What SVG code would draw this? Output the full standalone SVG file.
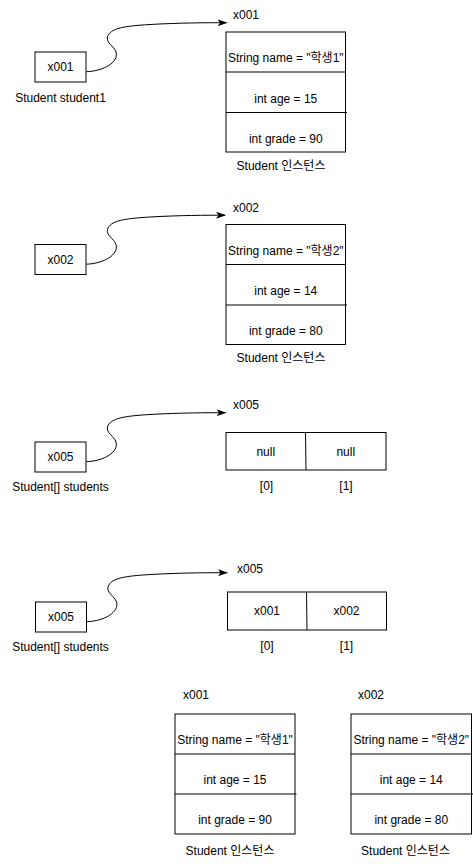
<svg xmlns="http://www.w3.org/2000/svg" width="473" height="864" viewBox="0 0 473 864">
<style>
text{font-family:"Liberation Sans","Noto Sans CJK KR",Arial,sans-serif;font-size:12px;fill:#000}
.c{text-anchor:middle}
.box{fill:#fff;stroke:#000;stroke-width:1}
.ln{stroke:#000;stroke-width:1;fill:none}
.edge{fill:none;stroke:#000;stroke-width:1;marker-end:url(#arr)}
</style>
<defs>
<marker id="arr" viewBox="0 0 10 7" refX="9" refY="3.5" markerWidth="10" markerHeight="7" markerUnits="userSpaceOnUse" orient="auto">
<path d="M0,0 L10,3.5 L0,7 L2.5,3.5 Z" fill="#000"/>
</marker>
</defs>
<rect width="473" height="864" fill="#fff"/>

<g id="var-student1">
<rect class="box" x="35" y="52" width="51" height="30"/>
<text class="c" x="60.5" y="71">x001</text>
<text class="c" x="60.5" y="101.5">Student student1</text>
</g>
<g id="instance-1">
<text x="233" y="19">x001</text>
<rect class="box" x="226" y="32" width="119.5" height="120"/>
<line class="ln" x1="226" y1="72" x2="345.5" y2="72"/>
<line class="ln" x1="226" y1="112.5" x2="347" y2="112.5"/>
<text class="c" x="285.75" y="62">String name = "학생1"</text>
<text class="c" x="285.75" y="102.5">int age = 15</text>
<text class="c" x="285.75" y="142.5">int grade = 90</text>
<text class="c" x="281" y="169.5">Student 인스턴스</text>
</g>

<g id="var-student2">
<rect class="box" x="35" y="244.5" width="51" height="30"/>
<text class="c" x="60.5" y="263.5">x002</text>
</g>
<g id="instance-2">
<text x="233" y="211.5">x002</text>
<rect class="box" x="226" y="224.5" width="119.5" height="120"/>
<line class="ln" x1="226" y1="264.5" x2="345.5" y2="264.5"/>
<line class="ln" x1="226" y1="305" x2="347" y2="305"/>
<text class="c" x="285.75" y="254.5">String name = "학생2"</text>
<text class="c" x="285.75" y="295">int age = 14</text>
<text class="c" x="285.75" y="335">int grade = 80</text>
<text class="c" x="281" y="362">Student 인스턴스</text>
</g>

<g id="var-students-1">
<rect class="box" x="35" y="442" width="51" height="30"/>
<text class="c" x="60.5" y="461">x005</text>
<text class="c" x="60.5" y="491">Student[] students</text>
</g>
<g id="array-null">
<text x="233" y="409">x005</text>
<rect class="box" x="226" y="432.5" width="160" height="37.5"/>
<line class="ln" x1="305.5" y1="432.5" x2="306" y2="470"/>
<text class="c" x="265.75" y="455.5">null</text>
<text class="c" x="345.75" y="455.5">null</text>
<text class="c" x="266.5" y="490">[0]</text>
<text class="c" x="346" y="490">[1]</text>
</g>

<g id="var-students-2">
<rect class="box" x="35.5" y="602" width="51" height="30"/>
<text class="c" x="61" y="621">x005</text>
<text class="c" x="60.5" y="651">Student[] students</text>
</g>
<g id="array-ref">
<text x="237" y="573">x005</text>
<rect class="box" x="227.5" y="592" width="159" height="38"/>
<line class="ln" x1="306.5" y1="592" x2="307" y2="630"/>
<text class="c" x="267" y="615">x001</text>
<text class="c" x="346.5" y="615">x002</text>
<text class="c" x="267" y="650">[0]</text>
<text class="c" x="346.5" y="650">[1]</text>
</g>

<g id="instance-3">
<text x="183" y="699">x001</text>
<rect class="box" x="175" y="714" width="120" height="120"/>
<line class="ln" x1="175" y1="754" x2="295" y2="754"/>
<line class="ln" x1="175" y1="794" x2="296.5" y2="794"/>
<text class="c" x="235" y="744">String name = "학생1"</text>
<text class="c" x="235" y="784">int age = 15</text>
<text class="c" x="235" y="824">int grade = 90</text>
<text class="c" x="230" y="855">Student 인스턴스</text>
</g>
<g id="instance-4">
<text x="358" y="699">x002</text>
<rect class="box" x="351" y="714" width="120.5" height="120"/>
<line class="ln" x1="351" y1="754" x2="471.5" y2="754"/>
<line class="ln" x1="351" y1="794" x2="473" y2="794"/>
<text class="c" x="411.25" y="744">String name = "학생2"</text>
<text class="c" x="411.25" y="784">int age = 14</text>
<text class="c" x="411.25" y="824">int grade = 80</text>
<text class="c" x="405.5" y="855">Student 인스턴스</text>
</g>

<g id="connectors">
<path class="edge" d="M86.5,71.7 C104,71 119,62 116,52 C114,46 106,43 107.5,37 C110,28 125,26 150,24.5 C180,22.8 205,22.7 226.5,22.7"/>
<path class="edge" d="M86.5,264.2 C104,263.5 119,254.5 116,244.5 C114,238.5 106,235.5 107.5,229.5 C110,220.5 125,218.5 150,217 C180,215.3 205,215.2 225,215.2"/>
<path class="edge" d="M86.5,461.7 C104,461 119,452 116,442 C114,436 106,433 107.5,427 C110,418 125,416 150,414.5 C180,412.8 205,412.7 225.5,412.7"/>
<path class="edge" d="M87,621.7 C104.5,621 119.5,612 116.5,602 C114.5,596 106.5,593 108,587 C110.5,578 125.5,576 150.5,574.5 C180.5,572.8 205.5,572.7 227,572.7"/>
</g>
</svg>
